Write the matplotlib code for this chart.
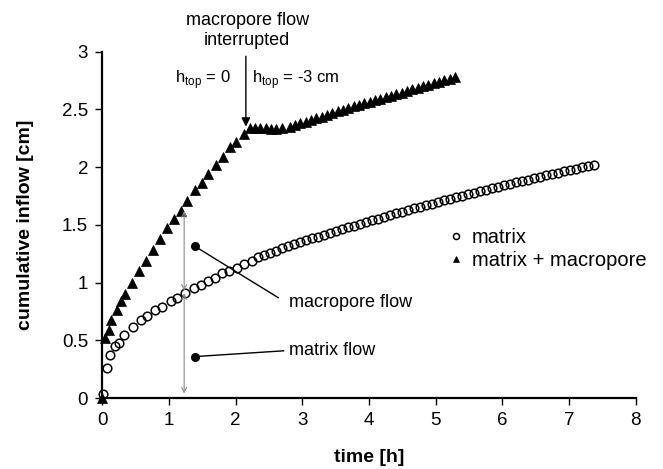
import matplotlib.pyplot as plt
from matplotlib.ticker import FuncFormatter

plt.rcParams['font.family'] = ['Liberation Sans', 'DejaVu Sans']
plt.rcParams['mathtext.fontset'] = 'custom'
plt.rcParams['mathtext.rm'] = 'Liberation Sans'

# cumulative inflow, matrix only (open circles)
matrix_t = [0.02, 0.07, 0.12, 0.20, 0.25, 0.33, 0.46, 0.58, 0.68, 0.80,
            0.90, 1.03, 1.13, 1.25, 1.38, 1.48, 1.59, 1.69, 1.80, 1.90,
            2.02, 2.13, 2.24, 2.34, 2.43, 2.52, 2.61, 2.70, 2.79, 2.88,
            2.97, 3.06, 3.15, 3.24, 3.33, 3.42, 3.51, 3.60, 3.69, 3.78,
            3.87, 3.96, 4.05, 4.14, 4.23, 4.32, 4.41, 4.50, 4.59, 4.68,
            4.77, 4.86, 4.95, 5.04, 5.13, 5.22, 5.31, 5.40, 5.49, 5.58,
            5.67, 5.76, 5.85, 5.94, 6.03, 6.12, 6.21, 6.30, 6.39, 6.48,
            6.57, 6.66, 6.75, 6.84, 6.93, 7.02, 7.11, 7.20, 7.29, 7.38]
matrix_y = [0.04, 0.26, 0.37, 0.45, 0.48, 0.55, 0.62, 0.68, 0.71, 0.76,
            0.79, 0.84, 0.87, 0.91, 0.95, 0.98, 1.01, 1.04, 1.08, 1.10,
            1.13, 1.16, 1.19, 1.22, 1.240, 1.260, 1.277, 1.296, 1.314, 1.331,
            1.349, 1.366, 1.383, 1.399, 1.415, 1.431, 1.447, 1.462, 1.478, 1.493,
            1.508, 1.524, 1.539, 1.554, 1.569, 1.584, 1.599, 1.614, 1.628, 1.643,
            1.657, 1.671, 1.685, 1.699, 1.713, 1.726, 1.739, 1.753, 1.766, 1.779,
            1.792, 1.805, 1.817, 1.830, 1.843, 1.855, 1.867, 1.880, 1.892, 1.904,
            1.916, 1.928, 1.939, 1.951, 1.963, 1.974, 1.986, 1.997, 2.008, 2.020]

# cumulative inflow, matrix + macropore (filled triangles)
macro_t = [0.00, 0.04, 0.10, 0.14, 0.22, 0.28, 0.35, 0.45, 0.55, 0.66,
           0.76, 0.87, 0.97, 1.08, 1.18, 1.28, 1.39, 1.49, 1.59, 1.70,
           1.81, 1.91, 2.01, 2.12, 2.21, 2.29, 2.37, 2.45, 2.53, 2.61,
           2.69, 2.81, 2.89, 2.97, 3.05, 3.13, 3.21, 3.29, 3.37, 3.45,
           3.53, 3.61, 3.69, 3.77, 3.85, 3.93, 4.01, 4.09, 4.17, 4.25,
           4.33, 4.41, 4.49, 4.57, 4.65, 4.73, 4.81, 4.89, 4.97, 5.05,
           5.13, 5.21, 5.29]
macro_y = [0.00, 0.52, 0.59, 0.68, 0.76, 0.84, 0.90, 1.00, 1.10, 1.19,
           1.28, 1.38, 1.47, 1.55, 1.62, 1.71, 1.80, 1.86, 1.94, 2.02,
           2.09, 2.17, 2.22, 2.29, 2.34, 2.34, 2.34, 2.335, 2.33, 2.33,
           2.335, 2.350, 2.365, 2.379, 2.394, 2.409, 2.424, 2.438, 2.453, 2.468,
           2.483, 2.497, 2.512, 2.526, 2.539, 2.552, 2.566, 2.579, 2.592, 2.605,
           2.619, 2.632, 2.645, 2.659, 2.672, 2.685, 2.698, 2.712, 2.725, 2.738,
           2.752, 2.765, 2.778]

# time of interruption and the split of inflow at t = 1.23 h
t_interrupt = 2.155
t_split = 1.23
split_total = 1.62
split_matrix = 0.91

fig = plt.figure(figsize=(6.63, 4.69), dpi=100)
ax = fig.add_axes([0.154, 0.151, 0.805, 0.739])

ax.plot(matrix_t, matrix_y, 'o', ms=6.2, mfc='none', mec='black', mew=1.1,
        clip_on=False, label='matrix', zorder=3)
ax.plot(macro_t, macro_y, '^', ms=7, mfc='black', mec='black', mew=0.5,
        clip_on=False, label='matrix + macropore', zorder=3)

# grey double arrows splitting total inflow into matrix and macropore parts
grey = '#8c8c8c'
ax.annotate('', xy=(t_split, split_total), xytext=(t_split, split_matrix + 0.02),
            arrowprops=dict(arrowstyle='<->', color=grey, lw=0.8, mutation_scale=9,
                            shrinkA=0, shrinkB=0))
ax.annotate('', xy=(t_split, split_matrix), xytext=(t_split, 0.04),
            arrowprops=dict(arrowstyle='<->', color=grey, lw=0.8, mutation_scale=9,
                            shrinkA=0, shrinkB=0))

# callouts
ax.plot([1.39, 2.64], [1.315, 0.87], color='black', lw=1)
ax.plot([1.39], [1.315], 'o', color='black', ms=5.5)
ax.text(2.80, 0.825, 'macropore flow', fontsize=13, ha='left', va='center')
ax.plot([1.39, 2.72], [0.36, 0.41], color='black', lw=1)
ax.plot([1.39], [0.36], 'o', color='black', ms=5.5)
ax.text(2.80, 0.41, 'matrix flow', fontsize=13, ha='left', va='center')

# interruption of macropore flow
ax.annotate('', xy=(t_interrupt, 2.35), xytext=(t_interrupt, 2.96),
            arrowprops=dict(arrowstyle='-|>', color='black', lw=1, mutation_scale=13,
                            shrinkA=0, shrinkB=0), annotation_clip=False)
ax.text(t_interrupt + 0.02, 3.18, 'macropore flow\ninterrupted', fontsize=13,
        ha='center', va='center', linespacing=1.2)
ax.text(1.93, 2.76, r'h$_{\mathrm{top}}$ = 0', fontsize=12, ha='right', va='center')
ax.text(2.25, 2.76, r'h$_{\mathrm{top}}$ = -3 cm', fontsize=12, ha='left', va='center')

ax.set_xlim(0, 8)
ax.set_ylim(0, 3)
ax.set_xticks(range(0, 9))
ax.set_yticks([0, 0.5, 1, 1.5, 2, 2.5, 3])
ax.yaxis.set_major_formatter(FuncFormatter(lambda v, p: '%g' % v))
ax.tick_params(direction='out', length=5, width=1, labelsize=13.5, pad=5)

for side in ['top', 'right']:
    ax.spines[side].set_visible(False)
for side in ['left', 'bottom']:
    ax.spines[side].set_linewidth(1.6)

ax.set_xlabel('time [h]', fontsize=14, fontweight='bold', labelpad=14)
ax.set_ylabel('cumulative inflow [cm]', fontsize=14, fontweight='bold', labelpad=20)

ax.legend(loc='center left', bbox_to_anchor=(0.648, 0.431), frameon=False,
          fontsize=14.5, handlelength=0.8, handletextpad=0.4, borderpad=0,
          labelspacing=0.22, markerscale=0.7, borderaxespad=0)

fig.savefig('out.png', dpi=100)
